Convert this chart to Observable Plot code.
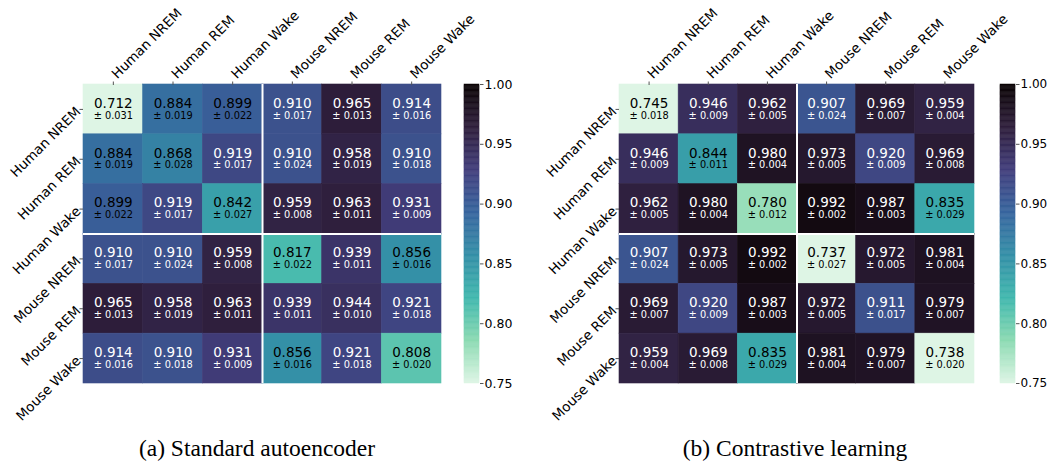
<!DOCTYPE html>
<html>
<head>
<meta charset="utf-8">
<script src="https://cdn.jsdelivr.net/npm/d3@7"></script>
<script src="https://cdn.jsdelivr.net/npm/@observablehq/plot@0.6"></script>
<style>
  body { margin: 0; background: white; }
  #root { position: relative; width: 1048px; height: 463px; background: white; overflow: hidden; }
  .panel { position: absolute; top: 0; }
  .panel svg { overflow: visible; font-family: "DejaVu Sans" !important; }
  .panel svg text { font-family: "DejaVu Sans" !important; }
  .caption { position: absolute; top: 437px; font-family: "Liberation Serif", "Times New Roman", serif; font-size: 23.5px; line-height: 23.5px; color: #000; white-space: nowrap; transform: translateX(-50%); }
</style>
</head>
<body>
<div id="root"></div>
<script>
// ---------- data ----------
const categories = ["Human NREM", "Human REM", "Human Wake", "Mouse NREM", "Mouse REM", "Mouse Wake"];

const aeMeans = [
  [0.712, 0.884, 0.899, 0.910, 0.965, 0.914],
  [0.884, 0.868, 0.919, 0.910, 0.958, 0.910],
  [0.899, 0.919, 0.842, 0.959, 0.963, 0.931],
  [0.910, 0.910, 0.959, 0.817, 0.939, 0.856],
  [0.965, 0.958, 0.963, 0.939, 0.944, 0.921],
  [0.914, 0.910, 0.931, 0.856, 0.921, 0.808]
];
const aeStds = [
  [0.031, 0.019, 0.022, 0.017, 0.013, 0.016],
  [0.019, 0.028, 0.017, 0.024, 0.019, 0.018],
  [0.022, 0.017, 0.027, 0.008, 0.011, 0.009],
  [0.017, 0.024, 0.008, 0.022, 0.011, 0.016],
  [0.013, 0.019, 0.011, 0.011, 0.010, 0.018],
  [0.016, 0.018, 0.009, 0.016, 0.018, 0.020]
];
const clMeans = [
  [0.745, 0.946, 0.962, 0.907, 0.969, 0.959],
  [0.946, 0.844, 0.980, 0.973, 0.920, 0.969],
  [0.962, 0.980, 0.780, 0.992, 0.987, 0.835],
  [0.907, 0.973, 0.992, 0.737, 0.972, 0.981],
  [0.969, 0.920, 0.987, 0.972, 0.911, 0.979],
  [0.959, 0.969, 0.835, 0.981, 0.979, 0.738]
];
const clStds = [
  [0.018, 0.009, 0.005, 0.024, 0.007, 0.004],
  [0.009, 0.011, 0.004, 0.005, 0.009, 0.008],
  [0.005, 0.004, 0.012, 0.002, 0.003, 0.029],
  [0.024, 0.005, 0.002, 0.027, 0.005, 0.004],
  [0.007, 0.009, 0.003, 0.005, 0.017, 0.007],
  [0.004, 0.008, 0.029, 0.004, 0.007, 0.020]
];
const colorTicks = [0.75, 0.80, 0.85, 0.90, 0.95, 1.00];
const captions = ["(a) Standard autoencoder", "(b) Contrastive learning"];

// reversed "mako" colormap stops (light -> dark), vmin 0.75, vmax 1.00
const makoR = ["#def5e5", "#8bdab2", "#40b7ad", "#348fa7", "#37659e", "#413d7b", "#2e1e3b", "#0b0405"];
const vmin = 0.75, vmax = 1.0;
const colorScale = {
  type: "linear",
  domain: makoR.map((_, k) => vmin + (vmax - vmin) * k / (makoR.length - 1)),
  range: makoR,
  clamp: true
};

function cellsOf(means, stds) {
  const out = [];
  means.forEach((row, i) => row.forEach((v, j) => out.push({i, j, v, s: stds[i][j]})));
  return out;
}

const FF = "DejaVu Sans";
const font = {fontFamily: FF, fontSize: "13px", background: "transparent", color: "#000", overflow: "visible"};
const tickPos = d3.range(categories.length).map(k => k + 0.5);

function heatmap(means, stds, width, marginLeft) {
  const data = cellsOf(means, stds);
  const dark = d => d.v < 0.9;
  const cx = d => d.j + 0.5, cy = d => d.i + 0.5;
  return Plot.plot({
    width, height: 400,
    marginLeft, marginRight: 4, marginTop: 84, marginBottom: 17,
    style: font,
    x: {domain: [0, 6], label: null},
    y: {domain: [0, 6], reverse: true, label: null},
    color: colorScale,
    marks: [
      Plot.rect(data, {x1: d => d.j, x2: d => d.j + 1, y1: d => d.i, y2: d => d.i + 1, fill: "v", stroke: "v", strokeWidth: 0.6}),
      Plot.ruleX([3], {stroke: "white", strokeWidth: 2}),
      Plot.ruleY([3], {stroke: "white", strokeWidth: 2}),
      // tick marks only
      Plot.axisX(tickPos, {anchor: "top", tickSize: 3.5, tickFormat: () => "", stroke: "#555", label: null}),
      Plot.axisY(tickPos, {anchor: "left", tickSize: 3.5, tickFormat: () => "", stroke: "#555", label: null}),
      // rotated tick labels
      Plot.text(categories, {x: (d, k) => k + 0.5, y: () => 0, text: d => d, rotate: -45, textAnchor: "start", lineAnchor: "bottom", dx: 4, dy: -5, fontSize: 13.5, fontFamily: FF, fill: "black"}),
      Plot.text(categories, {x: () => 0, y: (d, k) => k + 0.5, text: d => d, rotate: -45, textAnchor: "end", lineAnchor: "middle", dx: -5, dy: 0, fontSize: 13.5, fontFamily: FF, fill: "black"}),
      // cell annotations
      Plot.text(data, {filter: dark, x: cx, y: cy, text: d => d.v.toFixed(3), dy: -6, fontSize: 13.5, fontFamily: FF, fill: "black"}),
      Plot.text(data, {filter: d => !dark(d), x: cx, y: cy, text: d => d.v.toFixed(3), dy: -6, fontSize: 13.5, fontFamily: FF, fill: "white"}),
      Plot.text(data, {filter: dark, x: cx, y: cy, text: d => "± " + d.s.toFixed(3), dy: 6, fontSize: 9.8, fontFamily: FF, fill: "black"}),
      Plot.text(data, {filter: d => !dark(d), x: cx, y: cy, text: d => "± " + d.s.toFixed(3), dy: 6, fontSize: 9.8, fontFamily: FF, fill: "white"})
    ]
  });
}

function colorbar(width, fs) {
  const step = 0.001;
  const steps = d3.range(vmin, vmax - step / 2, step);
  return Plot.plot({
    width, height: 400,
    marginLeft: 9, marginRight: width - 24, marginTop: 84, marginBottom: 17,
    style: {...font, fontSize: fs + "px"},
    x: {domain: [0, 1], axis: null},
    y: {domain: [vmin, vmax], axis: null},
    color: colorScale,
    marks: [
      Plot.rect(steps, {x1: () => 0, x2: () => 1, y1: d => d, y2: d => d + step, fill: d => d + step / 2, stroke: d => d + step / 2, strokeWidth: 0.5}),
      Plot.axisY(colorTicks, {anchor: "right", tickFormat: ".2f", tickSize: 3.5, tickPadding: 1.5, fontSize: fs, stroke: "#555", label: null})
    ]
  });
}

const root = document.getElementById("root");
function place(node, left) {
  const div = document.createElement("div");
  div.className = "panel";
  div.style.left = left + "px";
  div.appendChild(node);
  root.appendChild(div);
}
place(heatmap(aeMeans, aeStds, 445, 83), 0);
place(colorbar(60, 12.5), 455);
place(heatmap(clMeans, clStds, 453, 94), 525);
place(colorbar(54, 12), 991);

[[captions[0], 257], [captions[1], 795]].forEach(([t, cx]) => {
  const c = document.createElement("div");
  c.className = "caption";
  c.style.left = cx + "px";
  c.textContent = t;
  root.appendChild(c);
});
</script>
</body>
</html>
